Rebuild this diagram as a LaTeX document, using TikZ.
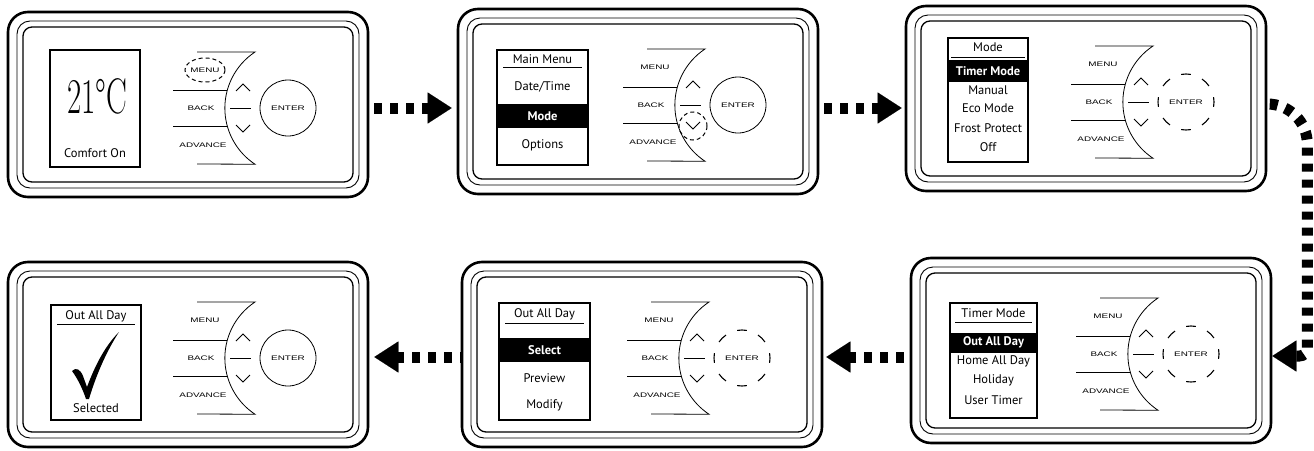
\documentclass[tikz,border=0pt]{standalone}
\usepackage{fontspec}
\usepackage{graphicx}
\usetikzlibrary{arrows.meta}
\newfontfamily\scrfont{PT Sans}
\newfontfamily\btnfont{Liberation Sans}
\newcommand{\btxt}[1]{\scalebox{1.5}[1]{\btnfont\fontsize{6.6}{7}\selectfont #1}}
\tikzset{
 frame/.style={draw, line width=2.6pt, rounded corners=20pt, minimum width=360pt, minimum height=185pt, inner sep=0pt},
 innerA/.style={line width=0.9pt, rounded corners=13pt},
 innerB/.style={line width=1.3pt, rounded corners=9pt},
 btnline/.style={line width=0.8pt},
 blabel/.style={inner sep=0pt},
 enter/.style={circle, line width=0.8pt, minimum size=56pt, inner sep=0pt},
 ringdash/.style={line width=1.1pt},
 screen/.style={draw, line width=1.1pt, inner sep=0pt},
 stext/.style={inner sep=0pt, font=\scrfont\fontsize{12.5}{14}\selectfont},
 band/.style={fill=black, text=white, inner sep=0pt, font=\scrfont\bfseries\fontsize{12.5}{14}\selectfont},
 uline/.style={line width=1pt},
 hl/.style={draw, dash pattern=on 4pt off 3pt, line width=1pt},
 conn/.style={line width=11pt, dash pattern=on 8pt off 8pt, -{Triangle[length=24pt,width=31pt,line width=0.1pt]}},
}
% #1 name, #2 x, #3 y (top-left), #4 draw or draw=none for ENTER ring
\newcommand{\thermo}[4]{%
\begin{scope}[shift={(#2,#3)}]
\node[frame] (#1) at (180,92.5) {};
\draw[innerA] (9,9) rectangle (351,176);
\draw[innerB] (15,15) rectangle (345,170);
\draw[btnline] (189,40) -- (247,40) arc[start angle=-123.5, end angle=-236.5, radius=67.3] -- (189,152);
\draw[btnline] (165,78) -- (219,78);
\draw[btnline] (165,114) -- (219,114);
\node[blabel] (#1menu) at (197,58) {\btxt{MENU}};
\node[blabel] (#1back) at (193,96) {\btxt{BACK}};
\node[blabel] (#1adv) at (195,133) {\btxt{ADVANCE}};
\draw[btnline] (228,79) -- (235,72) -- (242,79);
\draw[btnline] (222,96) -- (243,96);
\draw[btnline] (228,113) -- (235,120) -- (242,113);
\node[enter, #4] (#1enter) at (280,96) {\btxt{ENTER}};
\end{scope}}
\newcommand{\dashring}[1]{%
\foreach \a in {0,45,...,315}{\draw[ringdash] (#1.center) ++(\a-10:28) arc[start angle=\a-10, end angle=\a+10, radius=28];}}
\begin{document}
\begin{tikzpicture}[x=1pt,y=-1pt]
\useasboundingbox (0,0) rectangle (1314,450);
\thermo{p1}{8}{12}{draw}
\thermo{p2}{458}{9}{draw}
\thermo{p3}{906}{6}{draw=none}
\thermo{p4}{8}{262}{draw}
\thermo{p5}{462}{262}{draw=none}
\thermo{p6}{911}{258}{draw=none}
% highlights
\draw[hl] (p1menu) ellipse[x radius=20, y radius=12];
\draw[hl] (693,126) circle[radius=14];
\dashring{p3enter}
\dashring{p5enter}
\dashring{p6enter}
% screen 1
\node[screen, minimum width=90pt, minimum height=117pt] (s1) at (95,108.5) {};
\node[inner sep=0pt] (s1t) at (97,96) {\scalebox{0.62}[1]{\fontsize{50}{50}\selectfont 21°C}};
\node[stext] (s1b) at (95,153) {Comfort On};
% screen 2
\node[screen, minimum width=91pt, minimum height=115pt] (s2) at (542.5,107.5) {};
\node[stext] (s2a) at (542.5,59) {Main Menu};
\draw[uline] (503,67) -- (582,67);
\node[stext] (s2b) at (542.5,87) {Date/Time};
\node[band, minimum width=91pt, minimum height=24pt] (s2c) at (542.5,116) {Mode};
\node[stext] (s2d) at (542.5,145) {Options};
% screen 3
\node[screen, minimum width=80pt, minimum height=124pt] (s3) at (988,100) {};
\node[stext] (s3a) at (988,47) {Mode};
\draw[uline] (951,57) -- (1025,57);
\node[band, minimum width=80pt, minimum height=22pt] (s3b) at (988,71) {Timer Mode};
\node[stext] (s3c) at (988,90) {Manual};
\node[stext] (s3d) at (988,108) {Eco Mode};
\node[stext] (s3e) at (988,128) {Frost Protect};
\node[stext] (s3f) at (988,147) {Off};
% screen 4
\node[screen, minimum width=90pt, minimum height=115pt] (s4) at (96,362.5) {};
\node[stext] (s4a) at (96,316) {Out All Day};
\draw[uline] (57,324) -- (135,324);
\fill (72,371) .. controls (76,367) and (80,369) .. (83,376) -- (87,387) .. controls (96,363) and (106,345) .. (119,332) .. controls (108,349) and (97,372) .. (89,399) -- (86,399) .. controls (83,390) and (78,379) .. (72,371) -- cycle;
\node[stext] (s4b) at (96,408) {Selected};
% screen 5
\node[screen, minimum width=91pt, minimum height=117pt] (s5) at (544.5,361.5) {};
\node[stext] (s5a) at (544.5,314) {Out All Day};
\draw[uline] (505,323) -- (584,323);
\node[band, minimum width=91pt, minimum height=24pt] (s5b) at (544.5,350) {Select};
\node[stext] (s5c) at (544.5,378) {Preview};
\node[stext] (s5d) at (544.5,405) {Modify};
% screen 6
\node[screen, minimum width=87pt, minimum height=115pt] (s6) at (993.5,360.5) {};
\node[stext] (s6a) at (993.5,313) {Timer Mode};
\draw[uline] (955,322) -- (1032,322);
\node[band, minimum width=87pt, minimum height=20pt] (s6b) at (993.5,342.5) {Out All Day};
\node[stext] (s6c) at (993.5,361) {Home All Day};
\node[stext] (s6d) at (993.5,380) {Holiday};
\node[stext] (s6e) at (993.5,400) {User Timer};
% connectors
\coordinate (ya) at (0,108);
\coordinate (yb) at (0,357);
\coordinate (yc) at (0,104);
\coordinate (yd) at (0,356);
\draw[conn, dash phase=11pt, shorten >=5pt] (p1.east |- ya) -- (p2.west |- ya);
\draw[conn, dash phase=11pt, shorten >=3pt] (p2.east |- ya) -- (p3.west |- ya);
\draw[conn, dash phase=13.6pt] (p3.east |- yc) arc[start angle=-90, end angle=0, radius=40] -- ++(0,204) arc[start angle=0, end angle=90, radius=8] -- (p6.east |- yd);
\draw[conn, dash phase=10pt, shorten >=3pt] (p6.west |- yb) -- (p5.east |- yb);
\draw[conn, dash phase=7pt, shorten >=5pt] (p5.west |- yb) -- (p4.east |- yb);
\end{tikzpicture}
\end{document}
